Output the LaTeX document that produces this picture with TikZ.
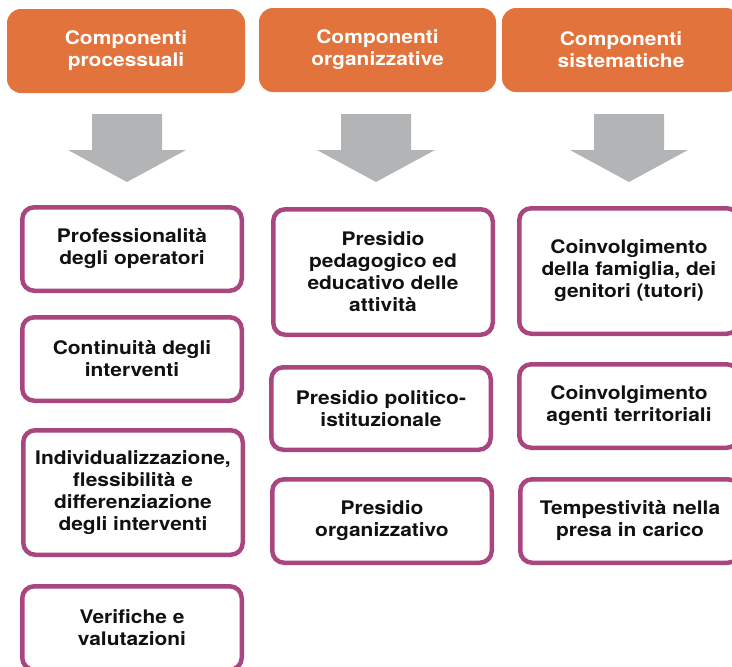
\documentclass[tikz,border=0pt]{standalone}
\usepackage{fontspec}
\setmainfont[FakeStretch=1.12]{TeX Gyre Heros}
\definecolor{hdrorange}{HTML}{E2733C}
\definecolor{itempurple}{HTML}{A9457F}
\definecolor{arrowgray}{HTML}{B3B4B6}
\definecolor{itemtext}{HTML}{111111}
\begin{document}
\begin{tikzpicture}[x=1pt,y=-1pt,
  hdr/.style={fill=hdrorange, rounded corners=14pt, minimum width=238pt, minimum height=84pt,
    text=white, font=\bfseries\fontsize{18.7}{22}\selectfont, align=center, inner sep=0pt},
  item/.style={draw=itempurple, line width=4.5pt, rounded corners=12pt, fill=white,
    minimum width=219.5pt, text=itemtext, font=\bfseries\fontsize{18.7}{22}\selectfont,
    align=center, inner sep=0pt},
  blockarrow/.style={fill=arrowgray}]
\useasboundingbox (0,0) rectangle (732,667);
\clip (0,0) rectangle (732,667);

% headers
\node[hdr] (h1) at (126,51) {Componenti\\processuali};
\node[hdr, minimum width=237pt] (h2) at (377.5,50) {Componenti\\organizzative};
\node[hdr] (h3) at (621,50) {Componenti\\sistematiche};

% block arrows
\foreach \cx in {127,376,629}{
  \fill[blockarrow] (\cx-35,114) -- (\cx+35,114) -- (\cx+35,150) -- (\cx+59,150)
    -- (\cx,182) -- (\cx-59,150) -- (\cx-35,150) -- cycle;
}

% column 1
\node[item, minimum height=83.5pt] (a1) at (132,249) {Professionalità\\degli operatori};
\node[item, minimum height=83.5pt] (a2) at (132,359) {Continuità degli\\interventi};
\node[item, minimum height=124.5pt] (a3) at (133,492.5) {Individualizzazione,\\flessibilità e\\differenziazione\\degli interventi};
\node[item, minimum height=83.5pt] (a4) at (132,628) {Verifiche e\\valutazioni};

% column 2
\node[item, minimum height=125.5pt] (b1) at (383,272) {Presidio\\pedagogico ed\\educativo delle\\attività};
\node[item, minimum height=82.5pt] (b2) at (381,408.5) {Presidio politico-\\istituzionale};
\node[item, minimum height=83.5pt] (b3) at (382,521) {Presidio\\organizzativo};

% column 3
\node[item, minimum height=125.5pt] (c1) at (629,271) {Coinvolgimento\\della famiglia, dei\\genitori (tutori)};
\node[item, minimum height=83.5pt] (c2) at (629,406) {Coinvolgimento\\agenti territoriali};
\node[item, minimum height=83.5pt] (c3) at (630,521) {Tempestività nella\\presa in carico};
\end{tikzpicture}
\end{document}
